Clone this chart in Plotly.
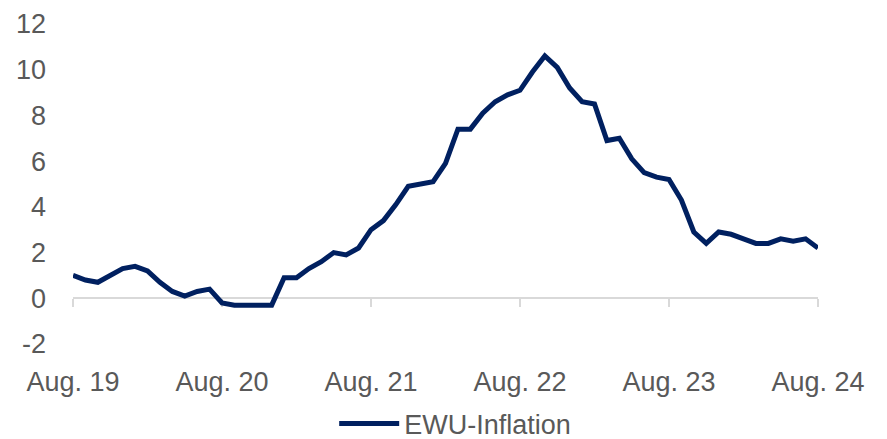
import plotly.graph_objects as go

month_names = ["Jan", "Feb", "Mar", "Apr", "May", "Jun", "Jul", "Aug", "Sep", "Oct", "Nov", "Dec"]
# monthly labels Aug 2019 .. Aug 2024
categories = [f"{month_names[(7 + i) % 12]}. {19 + (7 + i) // 12}" for i in range(61)]

inflation = [
    1.0, 0.8, 0.7, 1.0, 1.3,
    1.4, 1.2, 0.7, 0.3, 0.1, 0.3, 0.4, -0.2, -0.3, -0.3, -0.3, -0.3,
    0.9, 0.9, 1.3, 1.6, 2.0, 1.9, 2.2, 3.0, 3.4, 4.1, 4.9, 5.0,
    5.1, 5.9, 7.4, 7.4, 8.1, 8.6, 8.9, 9.1, 9.9, 10.6, 10.1, 9.2,
    8.6, 8.5, 6.9, 7.0, 6.1, 5.5, 5.3, 5.2, 4.3, 2.9, 2.4, 2.9,
    2.8, 2.6, 2.4, 2.4, 2.6, 2.5, 2.6, 2.2,
]
tick_labels = ["Aug. 19", "Aug. 20", "Aug. 21", "Aug. 22", "Aug. 23", "Aug. 24"]
y_ticks = [-2, 0, 2, 4, 6, 8, 10, 12]
y_tick_text = ["-2", "0", "2", "4", "6", "8", "10", "12"]
series_name = "EWU-Inflation"

FONT = "Liberation Sans"
GREY = "#595959"
AXIS = "#d9d9d9"
FS = 27

fig = go.Figure()
fig.add_trace(go.Scatter(
    x=categories, y=inflation, mode="lines", name=series_name,
    line=dict(color="#002060", width=5),
    xaxis="x", yaxis="y",
))
fig.add_trace(go.Scatter(
    x=categories, y=inflation, mode="lines", showlegend=False,
    line=dict(width=0), hoverinfo="skip", xaxis="x2", yaxis="y",
))

ymin, ymax = -2, 12
fig.update_layout(
    width=887, height=439,
    margin=dict(l=73, r=69, t=24, b=95, autoexpand=False),
    plot_bgcolor="white", paper_bgcolor="white",
    font=dict(family=FONT, size=FS, color=GREY),
    xaxis=dict(
        type="category", range=[0, 60], automargin=False,
        tickmode="array", tickvals=tick_labels, ticktext=tick_labels,
        showline=False, showgrid=False, zeroline=False, ticks="",
        ticklabelstandoff=19,
        tickfont=dict(family=FONT, size=FS, color=GREY),
    ),
    xaxis2=dict(
        type="category", overlaying="x", matches="x", anchor="free",
        position=(0 - ymin) / (ymax - ymin), automargin=False,
        tickmode="array", tickvals=tick_labels,
        showticklabels=False, showline=True, linecolor=AXIS, linewidth=1.5,
        ticks="outside", ticklen=8, tickwidth=1.5, tickcolor=AXIS,
        showgrid=False, zeroline=False, layer="below traces",
    ),
    yaxis=dict(
        range=[ymin, ymax], tickmode="array", tickvals=y_ticks, ticktext=y_tick_text,
        showgrid=False, zeroline=False, showline=False, ticks="",
        ticklabelstandoff=26, automargin=False,
        tickfont=dict(family=FONT, size=FS, color=GREY),
    ),
    showlegend=True,
    legend=dict(
        orientation="h", x=0.513, xanchor="center",
        yref="container", y=(439 - 424) / 439, yanchor="middle",
        itemwidth=60,
        font=dict(family=FONT, size=FS, color=GREY),
    ),
)

fig.write_html(
    "out.html",
    config={"displayModeBar": False},
    post_script="document.body.style.margin='0';document.body.style.overflow='hidden';",
)
